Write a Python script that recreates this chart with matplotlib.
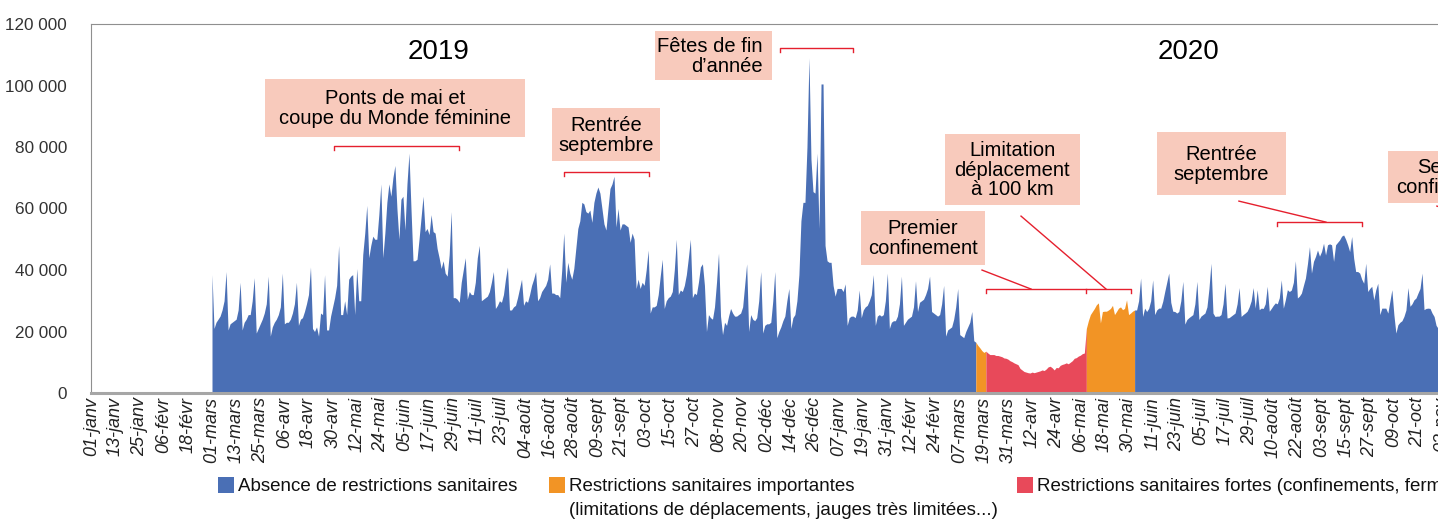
import matplotlib.pyplot as plt
from matplotlib.patches import Rectangle
from matplotlib.ticker import FuncFormatter

# Fréquentation journalière (milliers). Créneau 0 = 01-janv-2019, 366 créneaux par année
debut = 60  # 01-mars-2019

mars_avr_2019 = [38.5, 21, 23, 24, 25, 27, 30,
                 39.5, 20.5, 22.5, 23, 23.5, 24, 27,
                 36, 20.5, 23, 24, 25.5, 25.5, 30,
                 37.5, 19.5, 21, 22.5, 24, 26, 29,
                 38, 18.5, 21.5, 23, 24, 25.5, 28,
                 39, 22.5, 23, 23, 24, 26, 29,
                 36, 22, 24, 24.5, 26.5, 29, 32,
                 41, 21, 20, 21.5, 18.5, 26, 25.5,
                 38.5, 20.5, 20.5, 25, 28, 31]
mai_juin_2019 = [35,
                 48, 25.5, 25.5, 30, 25.5, 37, 38,
                 38.5, 25.5, 40.5, 30, 30, 45, 52,
                 61, 44, 48, 51, 50, 50, 58,
                 68, 44, 52, 62, 68, 64, 70,
                 74, 60, 50, 63, 64, 53, 68,
                 78, 60, 43, 43, 43.5, 50, 57,
                 64, 52.5, 53.5, 51.5, 58, 52.5, 52,
                 47, 44, 40.5, 43, 39, 38, 45,
                 59, 31, 31, 30.5]
juil_aout_2019 = [29.5, 36, 40,
                  44, 30.5, 33, 32, 32, 36, 44,
                  48, 30, 30.5, 31, 31.5, 33, 36,
                  39.5, 27.5, 28.5, 30, 29.5, 32, 37,
                  41, 27, 27, 28, 28.5, 31, 34,
                  37, 28.5, 30, 29.5, 32, 35, 37,
                  39.5, 30, 31, 33, 34, 35, 37,
                  42, 32.5, 32.5, 32, 32, 31, 40,
                  52, 36, 42.5, 39, 37, 40.5, 47,
                  53.5, 56]
sept_oct_2019 = [62, 61.5, 59, 58.5, 59.5, 55.5, 62,
                 65, 67, 65, 60, 55, 53, 60,
                 66.5, 68, 70.5, 54, 60, 53, 55,
                 55, 54.5, 54, 49, 52, 50, 34,
                 37, 34, 36, 35, 40, 46.5, 26,
                 28, 28, 28.5, 32, 38, 43.5, 27.5,
                 30, 31, 31.5, 33, 40, 50, 32,
                 33.5, 33, 35, 38.5, 44, 50, 31,
                 32.5, 32, 36, 41, 42, 35]
nov_dec_2019 = [20, 25.5, 24.5, 24, 28, 36, 45.5,
                25, 19, 23, 22, 25, 27.5, 26,
                25, 25, 25.5, 26, 28, 35, 42,
                20, 25.5, 24, 23.5, 24.5, 30, 39.5,
                19.5, 22, 22.5, 22.5, 23, 30, 39.5,
                18, 20, 21.5, 23.5, 25, 30, 34,
                21, 24.5, 25.5, 30, 38.5, 56, 62,
                62, 80, 109, 76, 65.5, 65, 78,
                53.5, 100.5, 100.5, 48, 43, 42.5]
janv_mars_2020 = [42.5, 35, 31.5, 34, 34, 34, 33,
                  35.5, 22, 24.5, 25, 25, 24.5, 27,
                  33.5, 24.5, 27, 28, 28.5, 30, 32,
                  38.5, 22, 25, 25.5, 25, 25.5, 30,
                  39, 21, 23, 23.5, 23.5, 25, 29,
                  38, 22, 23, 24, 24.5, 25, 28,
                  36.5, 26.5, 29.5, 30, 30.5, 32, 34,
                  38, 26.5, 26, 25.5, 25, 25.5, 29,
                  35, 18.5, 20.5, 21, 21.5, 24, 28,
                  34, 19, 18.5, 18, 20, 21.5, 23,
                  26.5, 17]
mars_2020 = [16.5, 15.5, 14.7, 13.8, 13.2]
confinement_2020 = [13.6, 13, 12.5, 12.5, 12.5, 12.2, 12.2, 12, 11.8, 11.4,
                    11.3, 11, 10.5, 10.2, 9.8, 9.5, 9.2, 8, 7.5, 7,
                    6.8, 6.6, 6.5, 6.8, 6.6, 6.8, 7, 7.2, 7.5, 7.3,
                    7.8, 8.5, 8.7, 8.2, 7.5, 8.3, 8.2, 9, 9.3, 9.5,
                    9.8, 9.5, 10, 10.5, 11.3, 11.5, 12, 12.3, 12.8, 13]
deconfinement_2020 = [21, 23.5, 25.5, 26.5, 27.5, 28.7, 29.3, 22.8, 26.5, 26.6,
                      26.6, 27, 27.5, 28.5, 25.5, 26.5, 27.6, 28, 27.1, 27.5,
                      30.3, 25.5, 26, 26.6]
ete_2020 = [27, 27, 30, 37.4, 24.9, 27.6, 26.5, 27.5, 30, 36.8,
            25.5, 27, 27.6, 27.6, 29.8, 33, 36, 39, 29.5, 26.6,
            26.5, 26, 26.5, 30, 36.3, 22.4, 23.9, 24.5, 25, 25.5,
            29, 36.3, 23.9, 25, 25.5, 26, 28, 34, 42.2, 26,
            24.9, 25, 25, 25.5, 29, 35.7, 24.4, 24.5, 25, 25.5,
            26, 29, 34.3, 24.9, 25.5, 26, 26.6, 28, 30, 34.3,
            27.6, 33.6, 27.1]
automne_2020 = [27.6, 27.5, 29, 34.7, 26.6, 27.5, 28.5, 29.3, 29, 31,
                36.8, 27.6, 30.3, 33.6, 33, 33.5, 36, 43, 30.9, 31.5,
                32.5, 35, 37.4, 42, 47.6, 39, 42.8, 44.4, 46.5, 44.5,
                46, 48.7, 44.9, 48.2, 48.5, 48.2, 42.8, 48.2, 49, 49.8,
                51, 51.4, 50, 48.2, 46, 50.9, 43.8, 39.5, 39.5, 39,
                37, 35.7, 42.2, 33, 34, 34.7, 30.3, 33.6, 35.7, 25.5,
                27.6, 27.6, 27.6, 26, 29.8, 33.6, 25.5, 19.5, 22.2, 23,
                23.5, 24.9, 27, 34.3, 28.2, 29, 30.3, 30.9, 32.5, 34,
                39, 27.1, 27.5, 27.6, 27.5, 26, 24.9, 22]
confinement2_2020 = [21, 9, 8, 8, 8.5, 8]

etiquettes = ["01-janv", "13-janv", "25-janv", "06-févr", "18-févr", "01-mars", "13-mars",
              "25-mars", "06-avr", "18-avr", "30-avr", "12-mai", "24-mai", "05-juin",
              "17-juin", "29-juin", "11-juil", "23-juil", "04-août", "16-août", "28-août",
              "09-sept", "21-sept", "03-oct", "15-oct", "27-oct", "08-nov", "20-nov",
              "02-déc", "14-déc", "26-déc",
              "07-janv", "19-janv", "31-janv", "12-févr", "24-févr", "07-mars", "19-mars",
              "31-mars", "12-avr", "24-avr", "06-mai", "18-mai", "30-mai", "11-juin",
              "23-juin", "05-juil", "17-juil", "29-juil", "10-août", "22-août", "03-sept",
              "15-sept", "27-sept", "09-oct", "21-oct", "02-nov", "14-nov", "26-nov",
              "08-déc", "20-déc"]

periodes = [
    (mars_avr_2019 + mai_juin_2019 + juil_aout_2019 + sept_oct_2019
     + nov_dec_2019 + janv_mars_2020, "absence"),
    (mars_2020, "importantes"),
    (confinement_2020, "fortes"),
    (deconfinement_2020, "importantes"),
    (ete_2020 + automne_2020, "absence"),
    (confinement2_2020, "fortes"),
]

couleurs = {"absence": "#4A6FB5", "importantes": "#F29425", "fortes": "#E8495A"}
rose = "#F8CABC"
rouge = "#E5202E"
texte = ["Liberation Sans", "DejaVu Sans"]

W, H = 1438, 520
fig = plt.figure(figsize=(W / 100, H / 100), dpi=100)
ax = fig.add_axes([91.4 / W, 127 / H, 731 * 2.01 / W, 369 / H])

# aires colorées, chaque période rejoint le premier point de la suivante
x0 = debut
for i, (valeurs, cat) in enumerate(periodes):
    xs = list(range(x0, x0 + len(valeurs)))
    ys = [v * 1000 for v in valeurs]
    if i + 1 < len(periodes):
        xs.append(x0 + len(valeurs))
        ys.append(periodes[i + 1][0][0] * 1000)
    ax.fill_between(xs, 0, ys, color=couleurs[cat], lw=0)
    x0 += len(valeurs)

ax.set_xlim(0, 731)
ax.set_ylim(0, 120000)
ax.set_yticks(range(0, 120001, 20000))
ax.yaxis.set_major_formatter(FuncFormatter(lambda v, p: f"{int(v):,}".replace(",", " ")))
ax.set_xticks(range(0, 12 * len(etiquettes), 12))
ax.set_xticklabels(etiquettes, rotation=90, style="italic", family=texte,
                   fontsize=13, color="#222222")
ax.tick_params(axis="y", length=0, pad=17.5, labelsize=12.3, labelcolor="#333333")
for t in ax.get_yticklabels():
    t.set_family(texte)
ax.tick_params(axis="x", length=0, pad=3)

ax.spines["right"].set_visible(False)
ax.spines["left"].set_color("#8f8f8f")
ax.spines["top"].set_color("#8f8f8f")
ax.spines["bottom"].set_color("#a6a6a6")
ax.spines["bottom"].set_linewidth(2.2)
ax.spines["bottom"].set_zorder(5)


def boite(xa, xb, ya, yb, lignes, xt, yt, ha="center"):
    ax.add_patch(Rectangle((xa, yb), xb - xa, ya - yb, color=rose, lw=0,
                           clip_on=False, zorder=3))
    ax.text(xt, yt, lignes, ha=ha, va="center", multialignment=ha, fontsize=14.5,
            family=texte, linespacing=1.05, zorder=4, clip_on=False)


def accolade(xa, xb, y, milieu=None):
    d = 1300
    ax.plot([xa, xa, xb, xb], [y - d, y, y, y - d], color=rouge, lw=1, zorder=4,
            clip_on=False)
    if milieu is not None:
        ax.plot([milieu, milieu], [y, y - d], color=rouge, lw=1, zorder=4)


def trait(xa, ya, xb, yb):
    ax.plot([xa, xb], [ya, yb], color=rouge, lw=1, zorder=4, clip_on=False)


ax.text(172.7, 110800, "2019", ha="center", va="center", fontsize=20, family=texte)
ax.text(545.6, 110800, "2020", ha="center", va="center", fontsize=20, family=texte)

boite(86.3, 215.7, 102050, 83200, "Ponts de mai et\ncoupe du Monde féminine", 151, 92400)
accolade(120.6, 182.9, 80275)
boite(229.2, 282.9, 92625, 75400, "Rentrée\nseptembre", 256, 83800)
accolade(235.1, 277.4, 71825)
boite(280.4, 338.6, 117650, 101725, "Fêtes de fin\nd’année", 334.1, 109500, ha="right")
accolade(342.6, 378.9, 112125)
boite(382.9, 444.6, 59150, 41600, "Premier\nconfinement", 413.7, 50200)
trait(443.1, 39975, 467.5, 33800)
accolade(445.1, 517.2, 33800, milieu=494.8)
boite(424.6, 491.8, 84175, 61100, "Limitation\ndéplacement\nà 100 km", 458.2, 72500)
trait(462.5, 57525, 504.8, 33800)
boite(530.1, 594.3, 84825, 64350, "Rentrée\nseptembre", 562.2, 74400)
trait(570.9, 62400, 614.2, 55575)
accolade(589.8, 632.1, 55575)
boite(645.0, 707.7, 78650, 61750, "Second\nconfinement", 676.4, 70000)
trait(669.4, 60775, 685.8, 57525)

# légende
legende = [(218, ["Absence de restrictions sanitaires"], "absence"),
           (549, ["Restrictions sanitaires importantes",
                  "(limitations de déplacements, jauges très limitées...)"], "importantes"),
           (1017, ["Restrictions sanitaires fortes (confinements, fermetures de lieux...)"],
            "fortes")]
for px, lignes, cat in legende:
    fig.patches.append(Rectangle((px / W, 1 - 493 / H), 16 / W, 16 / H,
                                 transform=fig.transFigure, color=couleurs[cat], lw=0))
    for k, lib in enumerate(lignes):
        fig.text((px + 20) / W, 1 - (491 + 24 * k) / H, lib, ha="left", va="baseline",
                 fontsize=13.5, family=texte, color="#111111")

fig.savefig("out.png", dpi=100)
